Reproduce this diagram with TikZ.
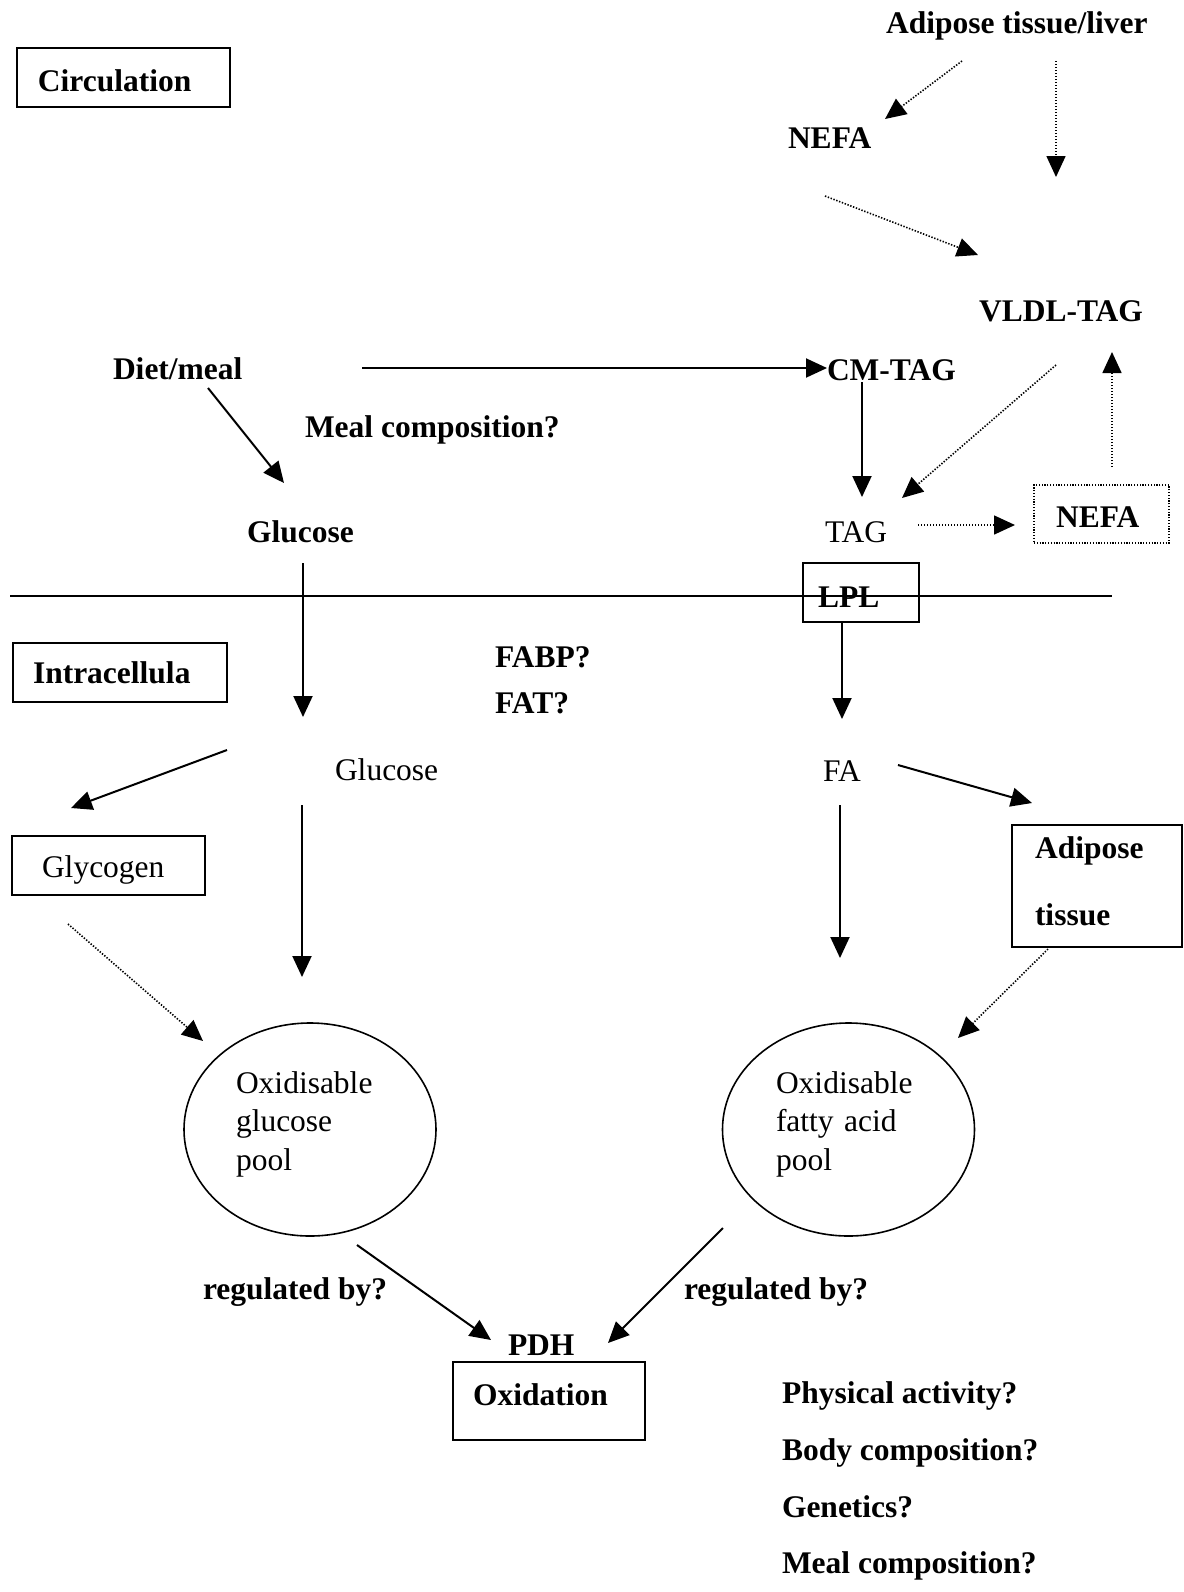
\documentclass[tikz,border=0pt]{standalone}
\usepackage{fontspec}
\setmainfont{Liberation Serif}
\usetikzlibrary{arrows.meta,calc,shapes.geometric}
\newcommand{\diagfont}{\fontsize{15.75}{19.25}\selectfont}
\begin{document}
\begin{tikzpicture}[x=0.5pt,y=-0.5pt,
  font=\diagfont,
  lbl/.style={inner sep=0pt, outer sep=0pt, anchor=base west},
  bl/.style={lbl, font=\diagfont\bfseries},
  framed/.style={draw, line width=0.9pt, inner ysep=0pt, outer sep=0pt, anchor=base west, align=left},
  flow/.style={line width=1pt, -{Triangle[length=10.5pt,width=9.5pt]}},
  weak/.style={line width=0.8pt, dash pattern=on 0.7pt off 0.8pt, -{Triangle[length=10.5pt,width=9.5pt]}},
  pool/.style={draw, ellipse, line width=0.8pt, inner sep=0pt, align=left,
    minimum width=126pt, minimum height=106.5pt, text height=10pt, text depth=46.5pt}
]
\useasboundingbox[fill=white] (0,0) rectangle (1184,1592);

% --- circulation compartment ---
\node[framed, font=\diagfont\bfseries, inner xsep=10.5pt, text width=85.5pt,
  text height=21.5pt, text depth=8pt] (circ) at (17,91) {Circulation};
\node[bl] (adl) at (886,33) {Adipose tissue/liver};
\node[bl] (nefa1) at (788,148) {NEFA};
\node[bl] (vldl) at (979,321) {VLDL-TAG};
\node[bl] (cm) at (827,380) {CM-TAG};
\node[bl] (diet) at (113,379) {Diet/meal};
\node[bl] (mealq) at (305,437) {Meal composition?};
\node[bl] (glu1) at (247,542) {Glucose};
\node[lbl] (tag) at (825,542) {TAG};
\node[framed, dash pattern=on 0.6pt off 0.8pt, line width=0.7pt, font=\diagfont\bfseries,
  inner xsep=11pt, text width=45.5pt, text height=21pt, text depth=8pt] (nefa2) at (1034,527) {NEFA};
\node[framed, font=\diagfont\bfseries, inner xsep=7.5pt, text width=43pt,
  text height=22pt, text depth=7.5pt] (lpl) at (803,607) {LPL};

% cell membrane
\draw[line width=1pt] (10,596) -- (1112,596);

% --- intracellular compartment ---
\node[framed, font=\diagfont\bfseries, inner xsep=10pt, text width=87pt,
  text height=20pt, text depth=9.5pt] (intra) at (13,683) {Intracellula};
\node[bl] (fabp) at (495,667) {FABP?};
\node[bl] (fat) at (495,713) {FAT?};
\node[lbl] (glu2) at (335,780) {Glucose};
\node[lbl] (fa) at (823,781) {FA};
\node[framed, inner xsep=15pt, text width=66.5pt,
  text height=20.5pt, text depth=9pt] (glyc) at (12,877) {Glycogen};
\node[framed, font=\fontsize{15.75}{33.5}\selectfont\bfseries, inner xsep=11.5pt, text width=62pt,
  text height=16.5pt, text depth=44.5pt] (adip) at (1012,858) {Adipose\\tissue};
\node[pool, text width=74pt] (gpool) at (310,1129.5) {Oxidisable\\glucose\\pool};
\node[pool, text width=72.5pt] (fpool) at (848.5,1129.5) {Oxidisable\\fatty acid\\pool};
\node[bl] (reg1) at (203,1299) {regulated by?};
\node[bl] (reg2) at (684,1299) {regulated by?};
\node[bl] (pdh) at (508,1355) {PDH};
\node[framed, font=\diagfont\bfseries, inner xsep=10pt, text width=76pt,
  text height=21.5pt, text depth=17.5pt] (oxid) at (453,1405) {Oxidation};
\node[bl] (phys) at (782,1403) {Physical activity?};
\node[bl] (body) at (782,1460) {Body composition?};
\node[bl] (gene) at (782,1517) {Genetics?};
\node[bl] (mealq2) at (782,1573) {Meal composition?};

% --- connectors ---
\draw[weak] ($(adl.base west)+(76,28)$) -- ($(nefa1.base west)+(97,-29)$);
\draw[weak] ($(adl.base west)+(170,28)$) -- ($(vldl.base west)+(77,-144)$);
\draw[weak] ($(nefa1.base west)+(37,48)$) -- ($(vldl.base west)+(-1,-66)$);
\draw[flow] ($(diet.base west)+(249,-11)$) -- ($(cm.base west)+(0,-12)$);
\draw[flow] ($(diet.base west)+(95,9)$) -- ($(glu1.base west)+(37,-59)$);
\draw[flow] ($(cm.base west)+(35,2)$) -- ($(tag.base west)+(37,-45)$);
\draw[weak] ($(vldl.base west)+(77,44)$) -- ($(tag.base west)+(77,-44)$);
\draw[weak] ($(nefa2.base west)+(78,-60)$) -- ($(vldl.base west)+(133,31)$);
\draw[weak] ($(tag.base west)+(93,-17)$) -- ($(nefa2.base west)+(-19,-2)$);
\draw[flow] ($(glu1.base west)+(56,21)$) -- ($(glu2.base west)+(-32,-63)$);
\draw[flow] ($(lpl.base west)+(39,15)$) -- ($(fa.base west)+(19,-62)$);
\draw[flow] ($(glu2.base west)+(-108,-30)$) -- ($(glyc.base west)+(59,-69)$);
\draw[flow] ($(glu2.base west)+(-33,25)$) -- ($(gpool.center)+(-8,-152.5)$);
\draw[flow] ($(fa.base west)+(75,-16)$) -- ($(adip.base west)+(20,-55)$);
\draw[flow] ($(fa.base west)+(17,24)$) -- ($(fpool.center)+(-8.5,-171.5)$);
\draw[weak] ($(glyc.base west)+(56,47)$) -- ($(gpool.center)+(-107,-88.5)$);
\draw[weak] ($(adip.base west)+(36,91)$) -- ($(fpool.center)+(109.5,-91.5)$);
\draw[flow] ($(gpool.center)+(47,115.5)$) -- ($(pdh.base west)+(-17,-15)$);
\draw[flow] ($(fpool.center)+(-125.5,98.5)$) -- ($(pdh.base west)+(100,-12)$);
\end{tikzpicture}
\end{document}
